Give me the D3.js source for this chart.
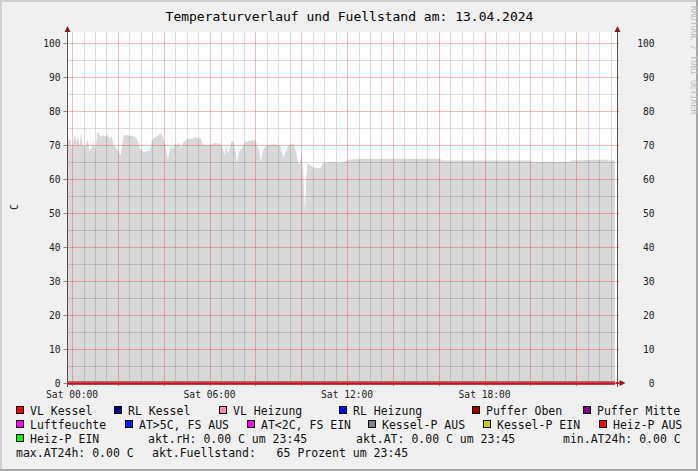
<!DOCTYPE html>
<html>
<head>
<meta charset="utf-8">
<script src="https://cdn.jsdelivr.net/npm/d3@7"></script>
<style>
  body { margin: 0; background: #f0f0f0; }
  text { font-family: "DejaVu Sans Mono", monospace; }
</style>
</head>
<body>
<div id="chart"></div>
<script>
// minutes since midnight of 13.04.2024 (negative = previous evening)
var fuellTime = [-11, -9, -4, 0, 6, 11, 17, 19, 24, 27, 35, 40, 45, 51, 56, 61, 66, 72, 77, 82,
  88, 93, 98, 103, 109, 114, 119, 127, 135, 143, 153, 161, 166, 172, 177, 188, 193, 198, 203, 209,
  216, 224, 232, 238, 243, 248, 251, 254, 259, 264, 270, 275, 280, 285, 291, 300, 314, 321, 329, 337,
  340, 348, 361, 374, 387, 392, 400, 403, 408, 413, 418, 424, 429, 431, 437, 445, 452, 466, 479, 484,
  490, 495, 500, 508, 518, 531, 545, 553, 558, 566, 577, 582, 587, 592, 597, 600, 603, 605, 608, 610,
  613, 616, 624, 632, 650, 658, 676, 702, 729, 755, 963, 968, 1199, 1204, 1303, 1309, 1397, 1402, 1421];
var fuellValue = [74.5, 71.5, 71.5, 68.6, 73.3, 71, 72.5, 69.6, 74, 70, 69.6, 71.6, 68.4, 69, 71, 68.6, 74, 73, 72.5, 73,
  72.5, 73.3, 72, 72.8, 70, 69.6, 68.6, 67, 72.7, 73, 72.8, 72.6, 72.4, 71.3, 69, 67.8, 68, 68.6, 68, 71.3,
  72.3, 72.8, 73.6, 72.4, 69.8, 67.7, 65.7, 67.7, 70, 69, 70.5, 70, 70.6, 69, 70.6, 71.8, 71.8, 72.4, 72, 72,
  70.6, 70, 70, 70.6, 70.4, 69.8, 67.2, 69.8, 67.7, 69, 71.3, 70.6, 67.7, 64.7, 68.3, 69, 70.9, 71.3, 71.5, 70.3,
  68.3, 64.9, 68.6, 69.8, 70.1, 70.3, 69.8, 66.2, 67.7, 69.8, 70.5, 70, 67.7, 64.7, 64.2, 68.6, 64.7, 63, 55, 50,
  59.8, 64.7, 64.2, 63.4, 63.2, 64.8, 65.1, 64.8, 65.8, 66, 66, 65.5, 65.5, 65.1, 65.1, 65.5, 65.8, 65.5, 65.5];

// temperature / pump series: all flat at zero in this period
var tempTime = [-11, 1421];
var seriesNames = ["VL Kessel", "RL Kessel", "VL Heizung", "RL Heizung", "Puffer Oben", "Puffer Mitte",
  "Luftfeuchte", "AT>5C, FS AUS", "AT<2C, FS EIN", "Kessel-P AUS", "Kessel-P EIN", "Heiz-P AUS", "Heiz-P EIN"];
var seriesColors = ["#ff0000", "#000080", "#ff88a8", "#0000ff", "#a00000", "#800080",
  "#ff00ff", "#0020ff", "#ff00ff", "#808080", "#cccc00", "#ff0000", "#00ff00"];
var seriesValues = [[0, 0], [0, 0], [0, 0], [0, 0], [0, 0], [0, 0], [0, 0], [0, 0], [0, 0], [0, 0], [0, 0], [0, 0], [0, 0]];

var xTicks = [0, 360, 720, 1080];
var xTickLabels = ["Sat 00:00", "Sat 06:00", "Sat 12:00", "Sat 18:00"];
var yTicks = [0, 10, 20, 30, 40, 50, 60, 70, 80, 90, 100];

var statLabels = ["akt.rH: 0.00 C um 23:45", "akt.AT: 0.00 C um 23:45", "min.AT24h: 0.00 C",
  "max.AT24h: 0.00 C", "akt.Fuellstand:   65 Prozent um 23:45"];

var W = 698, H = 471;
var plot = {left: 67.5, right: 617.5, top: 32, bottom: 383};

var svg = d3.select("#chart").append("svg")
    .attr("width", W)
    .attr("height", H);

// frame
svg.append("rect").attr("width", W).attr("height", H).attr("fill", "#a8a8a8");
svg.append("rect").attr("width", W - 2).attr("height", H - 2).attr("fill", "#d0d0d0");
svg.append("rect").attr("x", 2).attr("y", 2).attr("width", W - 4).attr("height", H - 4).attr("fill", "#f0f0f0");

var x = d3.scaleLinear().domain([-12, 1428]).range([plot.left, plot.right]);
var y = d3.scaleLinear().domain([0, 103.3]).range([plot.bottom, plot.top]);

svg.append("rect")
    .attr("x", plot.left).attr("y", plot.top)
    .attr("width", plot.right - plot.left).attr("height", plot.bottom - plot.top)
    .attr("fill", "#ffffff");

// Fuellstand area
var fuell = fuellTime.map(function(t, i) { return [t, fuellValue[i]]; });
svg.append("path")
    .datum(fuell)
    .attr("fill", "#d8d8d8")
    .attr("d", d3.area()
        .x(function(d) { return x(d[0]); })
        .y0(y(0))
        .y1(function(d) { return y(d[1]); }));

// grid
var g = svg.append("g");
d3.range(0, 1428, 30).filter(function(m) { return m % 120 != 0; }).forEach(function(m) {
  g.append("line").attr("x1", Math.round(x(m)) + 0.5).attr("x2", Math.round(x(m)) + 0.5)
    .attr("y1", plot.top).attr("y2", plot.bottom).attr("stroke", "rgba(0,0,0,0.13)");
});
d3.range(5, 103, 10).forEach(function(v) {
  g.append("line").attr("y1", Math.round(y(v)) + 0.5).attr("y2", Math.round(y(v)) + 0.5)
    .attr("x1", plot.left).attr("x2", plot.right + 2).attr("stroke", "rgba(0,0,0,0.13)");
});
d3.range(0, 1428, 120).forEach(function(m) {
  g.append("line").attr("x1", Math.round(x(m)) + 0.5).attr("x2", Math.round(x(m)) + 0.5)
    .attr("y1", plot.top).attr("y2", plot.bottom).attr("stroke", "rgba(255,0,0,0.28)");
  g.append("line").attr("x1", Math.round(x(m)) + 0.5).attr("x2", Math.round(x(m)) + 0.5)
    .attr("y1", plot.bottom).attr("y2", plot.bottom + 3).attr("stroke", "#888");
});
yTicks.forEach(function(v) {
  g.append("line").attr("y1", Math.round(y(v)) + 0.5).attr("y2", Math.round(y(v)) + 0.5)
    .attr("x1", plot.left).attr("x2", plot.right + 2).attr("stroke", "rgba(255,0,0,0.28)");
  g.append("line").attr("y1", Math.round(y(v)) + 0.5).attr("y2", Math.round(y(v)) + 0.5)
    .attr("x1", plot.left - 4).attr("x2", plot.left).attr("stroke", "#888");
});

// zero lines of all temperature series (they overlap)
var zeroLine = d3.line()
    .x(function(d, i) { return x(tempTime[i]); })
    .y(function(d) { return y(d); });
seriesValues.forEach(function(vals, i) {
  svg.append("path").datum(vals)
    .attr("fill", "none")
    .attr("stroke", seriesColors[i])
    .attr("stroke-width", 3)
    .attr("d", zeroLine);
});
svg.append("path").datum(seriesValues[2])
    .attr("fill", "none").attr("stroke", "#e65474").attr("stroke-width", 3).attr("d", zeroLine);
svg.append("path").datum(seriesValues[0])
    .attr("fill", "none").attr("stroke", "#cc0c3c").attr("stroke-width", 2)
    .attr("transform", "translate(0,0.5)").attr("d", zeroLine);

// axes
svg.append("line").attr("x1", plot.left).attr("x2", plot.left).attr("y1", 29).attr("y2", plot.bottom + 4)
    .attr("stroke", "#555");
svg.append("line").attr("x1", plot.right).attr("x2", plot.right).attr("y1", 29).attr("y2", plot.bottom + 4)
    .attr("stroke", "#555");
svg.append("line").attr("x1", plot.right - 2).attr("x2", plot.right + 2).attr("y1", plot.bottom).attr("y2", plot.bottom)
    .attr("stroke", "#cc0c3c").attr("stroke-width", 2);
[plot.left, plot.right].forEach(function(px) {
  svg.append("path").attr("d", "M" + (px - 3) + ",32L" + px + ",26L" + (px + 3) + ",32Z").attr("fill", "#8b1a1a");
});
svg.append("path").attr("d", "M" + (plot.right + 2) + "," + (plot.bottom - 3) + "L" + (plot.right + 8) + "," + plot.bottom +
    "L" + (plot.right + 2) + "," + (plot.bottom + 3) + "Z").attr("fill", "#8b1a1a");

// tick labels
svg.selectAll(".ylabL").data(yTicks).enter().append("text")
    .attr("x", 60.5).attr("y", function(d) { return y(d) + 3.5; })
    .attr("text-anchor", "end").style("font-size", "9.6px").attr("fill", "#222")
    .text(function(d) { return d; });
svg.selectAll(".ylabR").data(yTicks).enter().append("text")
    .attr("x", 654.5).attr("y", function(d) { return y(d) + 3.5; })
    .attr("text-anchor", "end").style("font-size", "9.6px").attr("fill", "#222")
    .text(function(d) { return d; });
svg.selectAll(".xlab").data(xTicks).enter().append("text")
    .attr("x", function(d) { return x(d); }).attr("y", 398)
    .attr("text-anchor", "middle").style("font-size", "9.6px").attr("fill", "#222")
    .text(function(d, i) { return xTickLabels[i]; });

// title, axis label, watermark
svg.append("text").attr("x", 349.5).attr("y", 21).attr("text-anchor", "middle")
    .style("font-size", "13px").attr("fill", "#000")
    .text("Temperaturverlauf und Fuellstand am: 13.04.2024");
svg.append("text").attr("transform", "translate(17.5,207) rotate(-90)").attr("text-anchor", "middle")
    .style("font-size", "10px").attr("fill", "#222").text("C");
svg.append("text").attr("transform", "translate(690.5,6) rotate(90)").attr("text-anchor", "start")
    .style("font-size", "8.2px").attr("fill", "#bcbcbc").text("RRDTOOL / TOBI OETIKER");

// legend
var legendBoxX = [16, 114, 219, 339, 472, 583, 16, 125, 247, 368, 483, 599, 16];
var legendRowY = [411, 425, 439, 453];
seriesNames.forEach(function(name, i) {
  var row = i < 6 ? 0 : (i < 12 ? 1 : 2);
  var cy = legendRowY[row];
  svg.append("rect").attr("x", legendBoxX[i] + 0.5).attr("y", cy - 4.5).attr("width", 7).attr("height", 7)
      .attr("fill", seriesColors[i]).attr("stroke", "#000");
  svg.append("text").attr("x", legendBoxX[i] + 14).attr("y", cy + 4)
      .style("font-size", "11.5px").attr("fill", "#111").text(name);
});
var statX = [148, 356, 563, 16, 152];
var statRow = [2, 2, 2, 3, 3];
statLabels.forEach(function(s, i) {
  svg.append("text").attr("x", statX[i]).attr("y", legendRowY[statRow[i]] + 4)
      .attr("xml:space", "preserve").style("white-space", "pre")
      .style("font-size", "11.5px").attr("fill", "#111").text(s);
});
</script>
</body>
</html>
